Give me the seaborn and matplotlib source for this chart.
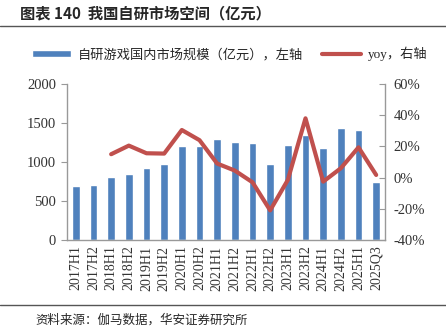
import matplotlib
matplotlib.use("Agg")
import matplotlib.pyplot as plt
import seaborn as sns
import pandas as pd
import numpy as np
from matplotlib.ticker import FixedLocator

sns.set_style("white")
plt.rcParams['font.family'] = ['Noto Sans CJK SC', 'DejaVu Sans']

periods = ["2017H1", "2017H2", "2018H1", "2018H2", "2019H1", "2019H2", "2020H1", "2020H2",
           "2021H1", "2021H2", "2022H1", "2022H2", "2023H1", "2023H2", "2024H1", "2024H2",
           "2025H1", "2025Q3"]
market_size = [695, 705, 805, 850, 925, 975, 1200, 1200, 1300, 1260, 1250, 980, 1220, 1345,
               1180, 1430, 1410, 740]
yoy = [np.nan, np.nan, 15.0, 20.5, 15.6, 15.4, 30.5, 24.0, 9.0, 4.5, -3.0, -21.0, -1.5, 38.0,
       -2.6, 6.0, 19.4, 1.7]
left_ticks = [0, 500, 1000, 1500, 2000]
right_ticks = [-40, -20, 0, 20, 40, 60]

bar_label = "自研游戏国内市场规模（亿元），左轴"
line_label = "yoy，右轴"

df = pd.DataFrame({"period": periods, "size": market_size, "yoy": yoy})
df["x"] = np.arange(len(periods))

fig = plt.figure(figsize=(4.46, 3.35), dpi=100)
ax = fig.add_axes([67/446, 1 - 240/335, (385 - 67)/446, (240 - 84)/335])

sns.barplot(data=df, x="period", y="size", color="#4F81BD", width=0.42, ax=ax,
            saturation=1, label=bar_label)
ax.set_ylim(0, 2000)
ax.set_xlim(-0.5, len(periods) - 0.5)
ax.set_xlabel("")
ax.set_ylabel("")

ax2 = ax.twinx()
sns.lineplot(data=df, x="x", y="yoy", color="#C0504D", linewidth=3, ax=ax2, label=line_label)
ax2.set_ylim(-40, 60)
ax2.set_xlim(-0.5, len(periods) - 0.5)
ax2.set_ylabel("")
ax2.set_xlabel("")

serif = "Liberation Serif"
ax.yaxis.set_major_locator(FixedLocator(left_ticks))
ax.set_yticklabels([str(t) for t in left_ticks], fontfamily=serif, fontsize=10.5, color="#333333")
ax2.yaxis.set_major_locator(FixedLocator(right_ticks))
ax2.set_yticklabels([f"{t}%" for t in right_ticks], fontfamily=serif, fontsize=10.5, color="#333333")
ax.set_xticks(range(len(periods)))
ax.set_xticklabels(periods, rotation=90, fontfamily=serif, fontsize=10, color="#333333")

ax.set_xticks(np.arange(-0.5, len(periods), 1), minor=True)
ax.tick_params(axis="x", which="major", length=0, pad=4)
ax.tick_params(axis="x", which="minor", length=4, direction="out", color="#999999", width=0.8)
ax.tick_params(axis="y", length=4, direction="out", color="#999999", width=0.8, pad=4, left=True)
ax2.tick_params(axis="y", length=4, direction="in", color="#999999", width=0.8, pad=6, right=True)

for a in (ax, ax2):
    a.spines["top"].set_visible(False)
    for s in ("left", "right", "bottom"):
        a.spines[s].set_color("#999999")
        a.spines[s].set_linewidth(1.0)
ax.spines["right"].set_visible(False)
ax2.spines["left"].set_visible(False)
ax2.spines["bottom"].set_visible(False)
ax.grid(False)
ax2.grid(False)

h1, l1 = ax.get_legend_handles_labels()
h2, l2 = ax2.get_legend_handles_labels()
if ax2.get_legend():
    ax2.get_legend().remove()
if ax.get_legend():
    ax.get_legend().remove()
fig.legend(h1 + h2, l1 + l2, loc="center", bbox_to_anchor=(0.515, 1 - 54/335), ncol=2,
           frameon=False, prop={"family": ["Liberation Serif", "Noto Sans CJK SC"], "size": 9.5},
           handlelength=3.0, handleheight=0.5, columnspacing=1.4, handletextpad=0.5)

fig.text(20/446, 1 - 13/335, "图表 140  我国自研市场空间（亿元）", fontsize=11, fontweight="bold",
         va="center", ha="left")
fig.add_artist(plt.Line2D([0, 1], [1 - 25.5/335, 1 - 25.5/335], color="#555555", linewidth=1))
fig.add_artist(plt.Line2D([0, 1], [1 - 305/335, 1 - 305/335], color="#555555", linewidth=1))
fig.text(35/446, 1 - 320/335, "资料来源：伽马数据，华安证券研究所", fontsize=9, va="center", ha="left")

fig.savefig("out.png", dpi=100)
